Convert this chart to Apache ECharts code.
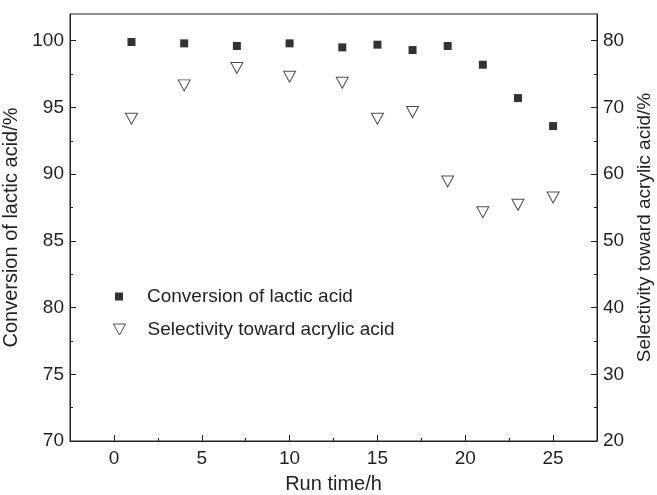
<!DOCTYPE html>
<html>
<head>
<meta charset="utf-8">
<script src="https://cdn.jsdelivr.net/npm/echarts@6/dist/echarts.min.js"></script>
<style>
  html, body { margin: 0; padding: 0; background: #fff; }
  #chart { width: 657px; height: 495px; }
</style>
</head>
<body>
<div id="chart"></div>
<script>
// run time (h) and the two measured series
const runTime = [1, 4, 7, 10, 13, 15, 17, 19, 21, 23, 25];
const conversion = [99.9, 99.8, 99.6, 99.8, 99.5, 99.7, 99.3, 99.6, 98.2, 95.7, 93.6];
const selectivity = [68.3, 73.3, 75.9, 74.6, 73.7, 68.3, 69.3, 58.9, 54.3, 55.4, 56.5];

// tick positions
const xMajor = [0, 5, 10, 15, 20, 25];
const xMinor = [-2.5, 2.5, 7.5, 12.5, 17.5, 22.5, 27.5];
const leftMajor = [70, 75, 80, 85, 90, 95, 100];
const leftMinor = [72.5, 77.5, 82.5, 87.5, 92.5, 97.5];
const rightMajor = [20, 30, 40, 50, 60, 70, 80];
const rightMinor = [25, 35, 45, 55, 65, 75];

const ink = "#231f20";
const font = "Liberation Sans, Arial, sans-serif";
// open triangle pointing down, same as the marker
const downTriangle = "path://M0,0L12,0L6,11Z";

function pairs(xs, ys) {
  return xs.map((x, i) => [x, ys[i]]);
}

const chart = echarts.init(document.getElementById("chart"));

const baseX = { type: "value", min: -2.5, max: 27.5, gridIndex: 0, splitLine: { show: false } };
const baseL = { type: "value", min: 70, max: 102, position: "left", splitLine: { show: false } };
const baseR = { type: "value", min: 20, max: 84, position: "right", splitLine: { show: false } };

chart.setOption({
  backgroundColor: "#fff",
  animation: false,
  textStyle: { fontFamily: font },
  grid: {
    left: 70, right: 60, top: 14, bottom: 54,
    outerBoundsMode: "none",
    show: true, borderColor: ink, borderWidth: 1, backgroundColor: "transparent"
  },
  legend: [
    {
      data: ["Conversion of lactic acid"],
      left: 110, top: 282,
      itemWidth: 8, itemHeight: 8,
      icon: "rect",
      textStyle: { fontSize: 19, color: ink, fontFamily: font, padding: [0, 0, 0, 19] }
    },
    {
      data: [{ name: "Selectivity toward acrylic acid", icon: downTriangle }],
      left: 108, top: 315,
      itemWidth: 12, itemHeight: 11,
      itemStyle: { color: "#fff", borderColor: ink, borderWidth: 1 },
      textStyle: { fontSize: 19, color: ink, fontFamily: font, padding: [0, 0, 0, 17] }
    }
  ],
  xAxis: [
    Object.assign({}, baseX, {
      position: "bottom",
      name: "Run time/h",
      nameLocation: "middle",
      nameGap: 33,
      nameTextStyle: { fontSize: 20, color: ink, fontFamily: font },
      axisLine: { show: true, onZero: false, lineStyle: { color: ink, width: 1 } },
      axisTick: { show: true, inside: true, length: 6, lineStyle: { color: ink }, customValues: xMajor },
      axisLabel: { show: true, fontSize: 19, color: ink, margin: 8, customValues: xMajor }
    }),
    Object.assign({}, baseX, {
      position: "bottom",
      axisLine: { show: false, onZero: false },
      axisTick: { show: true, inside: true, length: 3, lineStyle: { color: ink }, customValues: xMinor },
      axisLabel: { show: false }
    })
  ],
  yAxis: [
    Object.assign({}, baseL, {
      name: "Conversion of lactic acid/%",
      nameLocation: "middle",
      nameGap: 32,
      nameTextStyle: { fontSize: 20, color: ink, fontFamily: font },
      axisLine: { show: true, onZero: false, lineStyle: { color: ink, width: 1 } },
      axisTick: { show: true, inside: true, length: 6, lineStyle: { color: ink }, customValues: leftMajor },
      axisLabel: { show: true, fontSize: 19, color: ink, margin: 6, customValues: leftMajor }
    }),
    Object.assign({}, baseR, {
      name: "Selectivity toward acrylic acid/%",
      nameLocation: "middle",
      nameGap: 32,
      nameTextStyle: { fontSize: 19, color: ink, fontFamily: font },
      axisLine: { show: true, onZero: false, lineStyle: { color: ink, width: 1 } },
      axisTick: { show: true, inside: true, length: 6, lineStyle: { color: ink }, customValues: rightMajor },
      axisLabel: { show: true, fontSize: 19, color: ink, margin: 6, customValues: rightMajor }
    }),
    Object.assign({}, baseL, {
      axisLine: { show: false, onZero: false },
      axisTick: { show: true, inside: true, length: 3, lineStyle: { color: ink }, customValues: leftMinor },
      axisLabel: { show: false }
    }),
    Object.assign({}, baseR, {
      axisLine: { show: false, onZero: false },
      axisTick: { show: true, inside: true, length: 3, lineStyle: { color: ink }, customValues: rightMinor },
      axisLabel: { show: false }
    })
  ],
  series: [
    {
      name: "Conversion of lactic acid",
      type: "scatter",
      xAxisIndex: 0,
      yAxisIndex: 0,
      symbol: "rect",
      symbolSize: 8,
      itemStyle: { color: "#000" },
      data: pairs(runTime, conversion)
    },
    {
      name: "Selectivity toward acrylic acid",
      type: "scatter",
      xAxisIndex: 0,
      yAxisIndex: 1,
      symbol: "triangle",
      symbolRotate: 180,
      symbolSize: [12, 11],
      itemStyle: { color: "#fff", borderColor: ink, borderWidth: 1 },
      data: pairs(runTime, selectivity)
    }
  ]
});
</script>
</body>
</html>
